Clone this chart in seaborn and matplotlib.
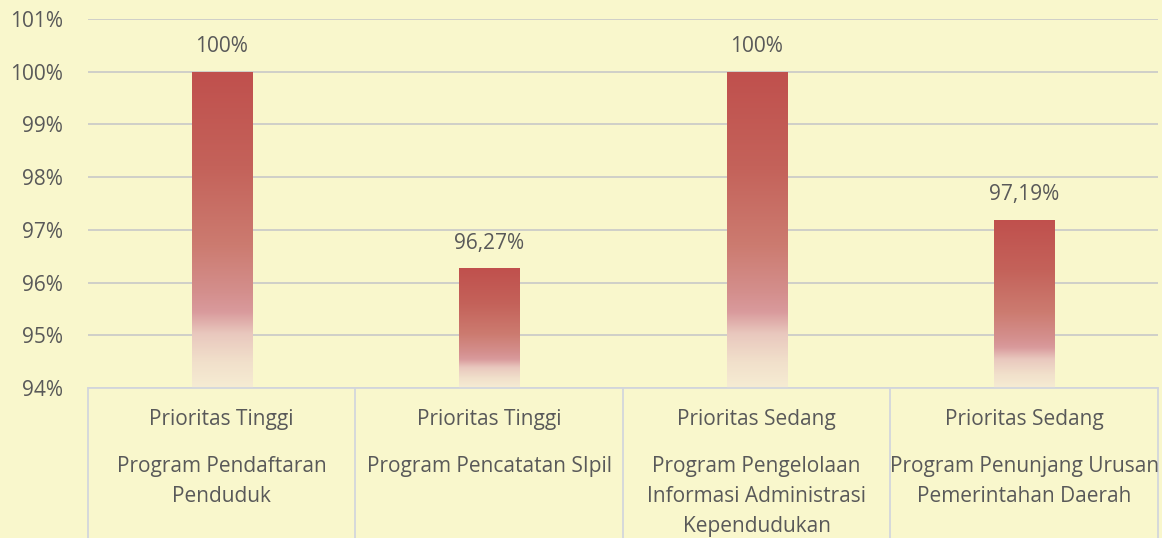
import numpy as np
import pandas as pd
import matplotlib
matplotlib.use('Agg')
import matplotlib.pyplot as plt
import matplotlib.transforms as mtransforms
import seaborn as sns
from matplotlib.colors import LinearSegmentedColormap
from matplotlib.ticker import PercentFormatter

# Data
prioritas = ['Prioritas Tinggi', 'Prioritas Tinggi', 'Prioritas Sedang', 'Prioritas Sedang']
program = ['Program Pendaftaran\nPenduduk',
           'Program Pencatatan SIpil',
           'Program Pengelolaan\nInformasi Administrasi\nKependudukan',
           'Program Penunjang Urusan\nPemerintahan Daerah']
capaian = [1.00, 0.9627, 1.00, 0.9719]
label_capaian = ['100%', '96,27%', '100%', '97,19%']
y_ticks = [0.94, 0.95, 0.96, 0.97, 0.98, 0.99, 1.00, 1.01]

df = pd.DataFrame({'program': program, 'capaian': capaian})

bg = '#F9F7CC'
text_col = '#595959'
box_col = '#D3D6DC'
fs = 15

sns.set_style('white')
plt.rcParams['font.family'] = ['Open Sans', 'DejaVu Sans']

fig = plt.figure(figsize=(11.62, 5.38), dpi=100, facecolor=bg)
ax = fig.add_axes([0.0757, 0.2788, 0.9208, 0.6859])
ax.set_facecolor(bg)

sns.barplot(data=df, x='program', y='capaian', width=0.225, ax=ax, color='#C0504D')

ax.set_ylim(0.94, 1.01)
ax.set_xlim(-0.5, len(program) - 0.5)
ax.set_yticks(y_ticks)
ax.yaxis.set_major_formatter(PercentFormatter(1.0, decimals=0))
ax.tick_params(axis='y', labelsize=fs, colors=text_col, length=0, pad=18)
ax.tick_params(axis='x', length=0, labelbottom=False)
ax.set_xlabel('')
ax.set_ylabel('')
ax.yaxis.grid(True, color='#CCCCC8', lw=1.3)
ax.set_axisbelow(True)
for s in ['top', 'left', 'right']:
    ax.spines[s].set_visible(False)
ax.spines['bottom'].set_color(box_col)
ax.spines['bottom'].set_linewidth(1.3)

# gradient fill per bar (red top -> pale bottom)
grad = LinearSegmentedColormap.from_list('grad', [
    (0.0, '#C0504D'), (0.3, '#C4625A'), (0.55, '#CC7B70'), (0.7, '#D48F8D'),
    (0.76, '#D99A9C'), (0.83, '#E9C8BE'), (0.92, '#F1E0CB'), (1.0, '#F6ECD3')])
ymin = ax.get_ylim()[0]
for p in ax.patches:
    x0 = p.get_x()
    x1 = x0 + p.get_width()
    top = p.get_y() + p.get_height()
    bot = max(p.get_y(), ymin)
    img = ax.imshow(np.linspace(0, 1, 256).reshape(-1, 1), cmap=grad, aspect='auto',
                    extent=(x0, x1, bot, top), origin='upper', zorder=2)
    img.set_clip_path(p)
    p.set_facecolor('none')
    p.set_edgecolor('none')
ax.set_xlim(-0.5, len(program) - 0.5)
ax.set_ylim(0.94, 1.01)

# data labels
for i, (v, lab) in enumerate(zip(capaian, label_capaian)):
    ax.annotate(lab, (i, v), xytext=(0, 18), textcoords='offset points',
                ha='center', va='center', fontsize=fs, color=text_col)

# category boxes under the axis
trans = mtransforms.blended_transform_factory(ax.transData, ax.transAxes)
for b in np.arange(-0.5, len(program), 1.0):
    ax.plot([b, b], [0, -0.45], transform=trans, color=box_col, lw=1.3, clip_on=False)
for i, (pr, pg) in enumerate(zip(prioritas, program)):
    ax.text(i, -0.084, pr, transform=trans, ha='center', va='center',
            fontsize=fs, color=text_col)
    for k, line in enumerate(pg.split('\n')):
        ax.text(i, -0.2114 - 0.0813 * k, line, transform=trans, ha='center', va='center',
                fontsize=fs, color=text_col)

plt.savefig('out.png', dpi=100, facecolor=bg)
